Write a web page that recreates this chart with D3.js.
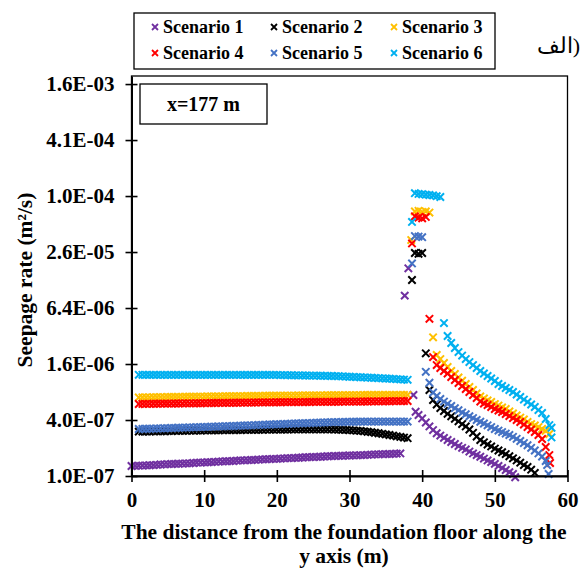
<!DOCTYPE html>
<html>
<head>
<meta charset="utf-8">
<script src="https://cdn.jsdelivr.net/npm/d3@7/dist/d3.min.js"></script>
<style>
  html, body { margin: 0; padding: 0; background: #fff; }
  svg text { font-family: "Liberation Serif", "Times New Roman", serif; }
</style>
</head>
<body>
<svg id="chart" width="584" height="568"></svg>
<script>
// Seepage rate along the y axis at section x = 177 m, six scenarios.
// Rates are stored in units of 1e-7 m²/s.
const UNIT = 1e-7;

const seriesNames = ["Scenario 1", "Scenario 2", "Scenario 3", "Scenario 4", "Scenario 5", "Scenario 6"];
const seriesColors = ["#7030A0", "#000000", "#FFC000", "#FF0000", "#4472C4", "#00B0F0"];

// distances (m) of the upstream part of the profile
const xLeftS1 = [0,0.5,1,1.5,2,2.5,3,3.5,4,4.5,5,5.5,6,6.5,7,7.5,8,8.5,9,9.5,10,10.5,11,11.5,12,12.5,13,13.5,14,14.5,15,15.5,16,16.5,17,17.5,18,18.5,19,19.5,20,20.5,21,21.5,22,22.5,23,23.5,24,24.5,25,25.5,26,26.5,27,27.5,28,28.5,29,29.5,30,30.5,31,31.5,32,32.5,33,33.5,34,34.5,35,35.5,36,36.5,37];
const xLeft = [1,1.5,2,2.5,3,3.5,4,4.5,5,5.5,6,6.5,7,7.5,8,8.5,9,9.5,10,10.5,11,11.5,12,12.5,13,13.5,14,14.5,15,15.5,16,16.5,17,17.5,18,18.5,19,19.5,20,20.5,21,21.5,22,22.5,23,23.5,24,24.5,25,25.5,26,26.5,27,27.5,28,28.5,29,29.5,30,30.5,31,31.5,32,32.5,33,33.5,34,34.5,35,35.5,36,36.5,37,37.5,38];

const s1Left = [1.28,1.285,1.29,1.295,1.30,1.305,1.31,1.32,1.33,1.335,1.34,1.345,1.35,1.355,1.36,1.365,1.37,1.38,1.39,1.395,1.40,1.405,1.41,1.42,1.43,1.435,1.44,1.445,1.45,1.46,1.47,1.475,1.48,1.485,1.49,1.50,1.51,1.515,1.52,1.525,1.53,1.54,1.55,1.555,1.56,1.565,1.57,1.58,1.59,1.595,1.60,1.605,1.61,1.62,1.63,1.635,1.64,1.645,1.65,1.655,1.66,1.665,1.67,1.675,1.68,1.69,1.70,1.705,1.71,1.715,1.72,1.725,1.73,1.74,1.75];
const s2Left = [3.00,3.00,3.01,3.01,3.02,3.02,3.03,3.03,3.04,3.04,3.05,3.05,3.06,3.06,3.07,3.07,3.08,3.08,3.09,3.09,3.10,3.10,3.10,3.11,3.11,3.11,3.12,3.12,3.12,3.13,3.13,3.13,3.14,3.14,3.14,3.15,3.15,3.15,3.16,3.16,3.16,3.16,3.17,3.17,3.17,3.17,3.17,3.17,3.17,3.17,3.17,3.17,3.17,3.17,3.16,3.15,3.14,3.13,3.11,3.09,3.07,3.05,3.02,2.99,2.96,2.92,2.88,2.84,2.80,2.76,2.72,2.67,2.63,2.59,2.55];
const s3Left = [7.00,7.01,7.02,7.02,7.03,7.04,7.05,7.06,7.07,7.07,7.08,7.09,7.10,7.11,7.12,7.12,7.13,7.14,7.15,7.16,7.17,7.17,7.18,7.19,7.20,7.21,7.22,7.22,7.23,7.24,7.25,7.26,7.27,7.27,7.28,7.29,7.30,7.30,7.31,7.31,7.32,7.32,7.33,7.33,7.34,7.34,7.35,7.35,7.36,7.36,7.37,7.37,7.38,7.38,7.39,7.39,7.40,7.40,7.41,7.41,7.42,7.42,7.43,7.43,7.44,7.44,7.44,7.45,7.45,7.45,7.45,7.45,7.45,7.45,7.45];
const s4Left = [5.95,5.96,5.96,5.97,5.98,5.98,5.99,6.00,6.00,6.01,6.02,6.02,6.03,6.04,6.04,6.05,6.06,6.06,6.07,6.08,6.09,6.09,6.10,6.11,6.11,6.12,6.13,6.13,6.14,6.15,6.16,6.16,6.17,6.18,6.18,6.19,6.20,6.20,6.21,6.21,6.22,6.22,6.23,6.23,6.24,6.24,6.25,6.25,6.26,6.26,6.27,6.27,6.28,6.28,6.29,6.29,6.30,6.30,6.31,6.31,6.32,6.32,6.33,6.33,6.34,6.34,6.35,6.35,6.36,6.36,6.37,6.38,6.38,6.39,6.40];
const s5Left = [3.20,3.21,3.22,3.22,3.23,3.24,3.25,3.26,3.27,3.28,3.29,3.30,3.31,3.32,3.33,3.34,3.35,3.36,3.37,3.38,3.39,3.40,3.41,3.42,3.43,3.44,3.45,3.46,3.48,3.49,3.50,3.51,3.53,3.54,3.55,3.56,3.58,3.59,3.60,3.61,3.63,3.64,3.65,3.67,3.68,3.69,3.70,3.71,3.73,3.74,3.75,3.76,3.78,3.79,3.80,3.80,3.81,3.82,3.82,3.83,3.83,3.84,3.84,3.85,3.85,3.85,3.85,3.85,3.85,3.85,3.85,3.85,3.85,3.85,3.85];
const s6Left = [12.25,12.24,12.24,12.23,12.23,12.22,12.22,12.22,12.21,12.21,12.21,12.20,12.20,12.20,12.20,12.20,12.20,12.20,12.20,12.20,12.20,12.20,12.20,12.20,12.20,12.20,12.20,12.20,12.20,12.20,12.20,12.20,12.20,12.20,12.20,12.20,12.20,12.20,12.20,12.18,12.16,12.14,12.12,12.10,12.08,12.06,12.04,12.02,12.00,11.98,11.96,11.94,11.92,11.90,11.88,11.83,11.78,11.73,11.68,11.63,11.58,11.53,11.48,11.43,11.38,11.33,11.28,11.23,11.18,11.12,11.06,11.00,10.94,10.88,10.82];

// transition peak and downstream part of the profile
const s1TailX = [37.6,38.1,38.8,39.1,39.5,40,40.5,41,41.5,42,42.5,43,43.5,44,44.5,45,45.5,46,46.5,47,47.5,48,48.5,49,49.5,50,50.5,51,51.5,52,52.5,52.8];
const s1Tail  = [87,171,7.43,4.91,4.53,4.16,3.76,3.41,3.12,2.88,2.72,2.57,2.44,2.32,2.21,2.10,2.01,1.93,1.83,1.75,1.68,1.61,1.54,1.47,1.41,1.35,1.28,1.22,1.16,1.10,1.05,0.97];

const s2TailX = [38.6,39,39.5,40,40.5,41,41.5,42,42.5,43,43.5,44,44.5,45,45.5,46,46.5,47,47.5,48,48.5,49,49.5,50,50.5,51,51.5,52,52.5,53,53.5,54,54.5,55,55.5];
const s2Tail  = [128,250,245,250,20.85,8.41,6.56,5.87,5.38,5.00,4.66,4.38,4.12,3.87,3.62,3.41,3.16,2.91,2.66,2.44,2.30,2.18,2.08,1.97,1.88,1.80,1.72,1.63,1.55,1.47,1.39,1.31,1.25,1.17,1.08];

const s3TailX = [38.5,39,39.5,40,40.5,41,41.5,42,42.5,43,43.5,44,44.5,45,45.5,46,46.5,47,47.5,48,48.5,49,49.5,50,50.5,51,51.5,52,52.5,53,53.5,54,54.5,55,55.5,56,56.5,57,57.5];
const s3Tail  = [344,700,710,690,700,680,31,20,18.1,16.4,14.85,13.45,12.5,11.45,10.6,9.75,9.06,8.41,7.71,7.17,6.81,6.49,6.25,5.94,5.72,5.45,5.25,4.94,4.70,4.47,4.25,4.05,3.81,3.62,3.49,3.36,3.20,3.05,2.83];

const s4TailX = [38.6,39,39.5,40,40.5,41,41.5,42,42.5,43,43.5,44,44.5,45,45.5,46,46.5,47,47.5,48,48.5,49,49.5,50,50.5,51,51.5,52,52.5,53,53.5,54,54.5,55,55.5,56,56.5,57,57.5,57.6];
const s4Tail  = [317,620,600,590,610,49,19,15.6,14.5,13.45,12.65,11.6,10.77,10.0,9.28,8.62,8.0,7.43,6.9,6.32,6.02,5.8,5.52,5.25,5.06,4.88,4.64,4.42,4.2,4.0,3.81,3.58,3.36,3.16,2.97,2.76,2.5,2.05,1.68,1.38];

const s5TailX = [38.6,39,39.5,40,40.5,41,41.5,42,42.5,43,43.5,44,44.5,45,45.5,46,46.5,47,47.5,48,48.5,49,49.5,50,50.5,51,51.5,52,52.5,53,53.5,54,54.5,55,55.5,56,56.5,57,57.2,57.4];
const s5Tail  = [193,380,375,370,13.2,10.06,7.9,7.25,6.73,6.32,5.97,5.66,5.36,5.09,4.82,4.61,4.39,4.2,4.0,3.83,3.67,3.51,3.36,3.2,3.08,2.97,2.86,2.76,2.64,2.51,2.38,2.26,2.14,2.01,1.88,1.75,1.62,1.45,1.31,1.05];

const s6TailX = [38.6,39,39.5,40,40.5,41,41.5,42,42.5,43,43.5,44,44.5,45,45.5,46,46.5,47,47.5,48,48.5,49,49.5,50,50.5,51,51.5,52,52.5,53,53.5,54,54.5,55,55.5,56,56.5,57,57.5,57.8,57.8];
const s6Tail  = [540,1100,1080,1070,1060,1050,1040,1020,1000,44.1,32,26.9,23.8,21.5,19.7,18.1,16.8,15.6,14.5,13.45,12.65,11.89,11.17,10.5,9.75,9.28,8.83,8.41,8.0,7.52,7.07,6.64,6.25,5.87,5.52,5.12,4.76,4.1,3.53,3.3,2.6];

// axes
const xTicks = [0, 10, 20, 30, 40, 50, 60];
const yTicks = [1e-7, 4e-7, 1.6e-6, 6.4e-6, 2.56e-5, 1.024e-4, 4.096e-4, 1.6384e-3];
const yTickLabels = ["1.0E-07", "4.0E-07", "1.6E-06", "6.4E-06", "2.6E-05", "1.0E-04", "4.1E-04", "1.6E-03"];

const xTitleLines = ["The distance from the foundation floor along the", "y axis (m)"];
const yTitle = "Seepage rate (m²/s)";
const sectionLabel = "x=177 m";
// panel tag: Arabic word and its closing parenthesis
const panelWord = "الف";
const panelParen = ")";

const seriesX = [xLeftS1.concat(s1TailX), xLeft.concat(s2TailX), xLeft.concat(s3TailX),
                 xLeft.concat(s4TailX), xLeft.concat(s5TailX), xLeft.concat(s6TailX)];
const seriesV = [s1Left.concat(s1Tail), s2Left.concat(s2Tail), s3Left.concat(s3Tail),
                 s4Left.concat(s4Tail), s5Left.concat(s5Tail), s6Left.concat(s6Tail)];

const series = seriesNames.map((name, i) => ({
  name, color: seriesColors[i],
  points: seriesX[i].map((x, j) => ({ x, v: seriesV[i][j] * UNIT }))
}));

const FONT = "Liberation Serif, Times New Roman, serif";
const svg = d3.select("#chart");
const plot = { left: 131.5, right: 567.5, top: 76, bottom: 476 };

const x = d3.scaleLinear().domain([0, 60]).range([plot.left, plot.right]);
const y = d3.scaleLog().domain([1e-7, 2.0e-3]).range([plot.bottom, plot.top]);

// plot frame
svg.append("rect")
  .attr("x", plot.left).attr("y", plot.top)
  .attr("width", plot.right - plot.left).attr("height", plot.bottom - plot.top)
  .attr("fill", "#fff").attr("stroke", "#000").attr("stroke-width", 1.3);

// markers
const cross = "M-3.7,-3.7L3.7,3.7M-3.7,3.7L3.7,-3.7";
series.forEach(s => {
  svg.append("g").selectAll("path").data(s.points).join("path")
    .attr("d", cross)
    .attr("transform", d => `translate(${x(d.x)},${y(d.v)})`)
    .attr("stroke", s.color).attr("stroke-width", 2).attr("fill", "none");
});

// x axis
const gx = svg.append("g").attr("transform", `translate(0,${plot.bottom})`)
  .call(d3.axisBottom(x).tickValues(xTicks).tickFormat(d3.format("d")).tickSizeOuter(0).tickPadding(10));
gx.select(".domain").attr("stroke-width", 2);
gx.selectAll(".tick line").attr("y1", -6).attr("y2", 6).attr("stroke-width", 1.6);
gx.selectAll(".tick text").attr("font-size", 21).attr("font-weight", "bold")
  .attr("font-family", FONT).attr("fill", "#000");

// y axis
const gy = svg.append("g").attr("transform", `translate(${plot.left},0)`)
  .call(d3.axisLeft(y).tickValues(yTicks).tickFormat((d, i) => yTickLabels[i]).tickSizeOuter(0).tickPadding(11));
gy.select(".domain").attr("stroke-width", 2);
gy.selectAll(".tick line").attr("x1", -6).attr("x2", 6).attr("stroke-width", 1.6);
gy.selectAll(".tick text").attr("font-size", 21).attr("font-weight", "bold")
  .attr("font-family", FONT).attr("fill", "#000");

// axis titles
svg.append("text").attr("x", 344).attr("y", 539)
  .attr("text-anchor", "middle").attr("font-size", 21.5).attr("font-weight", "bold")
  .text(xTitleLines[0]);
svg.append("text").attr("x", 344).attr("y", 563)
  .attr("text-anchor", "middle").attr("font-size", 21.5).attr("font-weight", "bold")
  .text(xTitleLines[1]);
svg.append("text").attr("transform", "translate(32,280) rotate(-90)")
  .attr("text-anchor", "middle").attr("font-size", 21.5).attr("font-weight", "bold")
  .text(yTitle);

// section label box
svg.append("rect").attr("x", 140).attr("y", 84).attr("width", 127).attr("height", 40)
  .attr("fill", "#fff").attr("stroke", "#000").attr("stroke-width", 1.3);
svg.append("text").attr("x", 203.5).attr("y", 110.5)
  .attr("text-anchor", "middle").attr("font-size", 20).attr("font-weight", "bold")
  .text(sectionLabel);

// legend
svg.append("rect").attr("x", 134).attr("y", 13).attr("width", 361).attr("height", 56)
  .attr("fill", "#fff").attr("stroke", "#000").attr("stroke-width", 1.3);
const legCols = [155, 274, 394];
const legRows = [27, 53];
const legend = svg.append("g");
series.forEach((s, i) => {
  const lx = legCols[i % 3], ly = legRows[Math.floor(i / 3)];
  legend.append("path").attr("d", "M-3,-3L3,3M-3,3L3,-3")
    .attr("transform", `translate(${lx},${ly})`)
    .attr("stroke", s.color).attr("stroke-width", 1.8).attr("fill", "none");
  legend.append("text").attr("x", lx + 8).attr("y", ly + 6)
    .attr("font-size", 18).attr("font-weight", "bold").text(s.name);
});

// panel label: two positioned chunks so the parenthesis stays on the right
const tag = svg.append("text").attr("y", 53).attr("font-size", 22).attr("text-anchor", "end");
tag.append("tspan").attr("x", 572.5).text(panelWord);
tag.append("tspan").attr("x", 580).text(panelParen);
</script>
</body>
</html>
